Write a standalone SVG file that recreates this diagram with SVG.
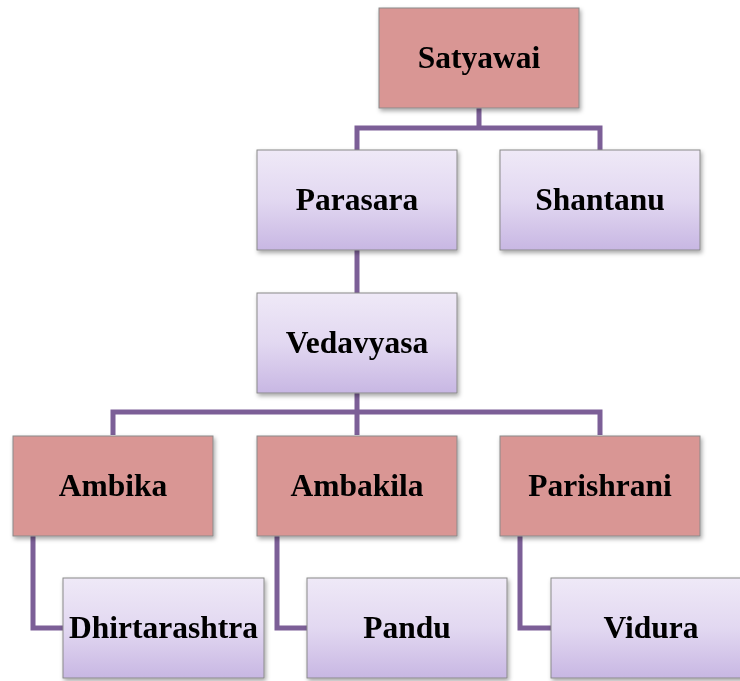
<svg xmlns="http://www.w3.org/2000/svg" width="740" height="681" viewBox="0 0 740 681">
<style>
.red{fill:#d99694;stroke:#8a8a8a;stroke-width:1;}
.lav{fill:url(#lg);stroke:#8a8a8a;stroke-width:1;}
.box{filter:url(#sh);}
text{font-family:"Liberation Serif","Times New Roman",serif;font-weight:bold;font-size:31.5px;fill:#000;text-anchor:middle;}
.conn path{fill:none;stroke:#7c5f97;stroke-width:5;stroke-linejoin:miter;}
</style>
<defs>
<linearGradient id="lg" x1="0" y1="0" x2="0" y2="1">
<stop offset="0" stop-color="#efe9f7"/>
<stop offset="0.5" stop-color="#e2d8f1"/>
<stop offset="1" stop-color="#c8b7e3"/>
</linearGradient>
<filter id="sh" x="-10%" y="-10%" width="125%" height="130%">
<feDropShadow dx="1.5" dy="2.5" stdDeviation="2" flood-color="#000" flood-opacity="0.35"/>
</filter>
</defs>
<rect width="740" height="681" fill="#fff"/>
<g class="conn" id="connectors">
<path d="M479 108 V128 M357 150 V128 H600 V150"/>
<path d="M357 250 V293"/>
<path d="M357 393 V412 M113 435 V412 H600 V435 M357 412 V435"/>
<path d="M33 536 V628 H63"/>
<path d="M277 536 V628 H307"/>
<path d="M520 536 V628 H551"/>
</g>
<g id="satyawai" class="box"><rect class="red" x="379" y="8" width="200" height="100"/><text x="479" y="68">Satyawai</text></g>
<g id="parasara" class="box"><rect class="lav" x="257" y="150" width="200" height="100"/><text x="357" y="210">Parasara</text></g>
<g id="shantanu" class="box"><rect class="lav" x="500" y="150" width="200" height="100"/><text x="600" y="210">Shantanu</text></g>
<g id="vedavyasa" class="box"><rect class="lav" x="257" y="293" width="200" height="100"/><text x="357" y="353">Vedavyasa</text></g>
<g id="ambika" class="box"><rect class="red" x="13" y="436" width="200" height="100"/><text x="113" y="496">Ambika</text></g>
<g id="ambakila" class="box"><rect class="red" x="257" y="436" width="200" height="100"/><text x="357" y="496">Ambakila</text></g>
<g id="parishrani" class="box"><rect class="red" x="500" y="436" width="200" height="100"/><text x="600" y="496">Parishrani</text></g>
<g id="dhirtarashtra" class="box"><rect class="lav" x="63" y="578" width="201" height="100"/><text x="163.5" y="638">Dhirtarashtra</text></g>
<g id="pandu" class="box"><rect class="lav" x="307" y="578" width="200" height="100"/><text x="407" y="638">Pandu</text></g>
<g id="vidura" class="box"><rect class="lav" x="551" y="578" width="200" height="100"/><text x="651" y="638">Vidura</text></g>
</svg>
